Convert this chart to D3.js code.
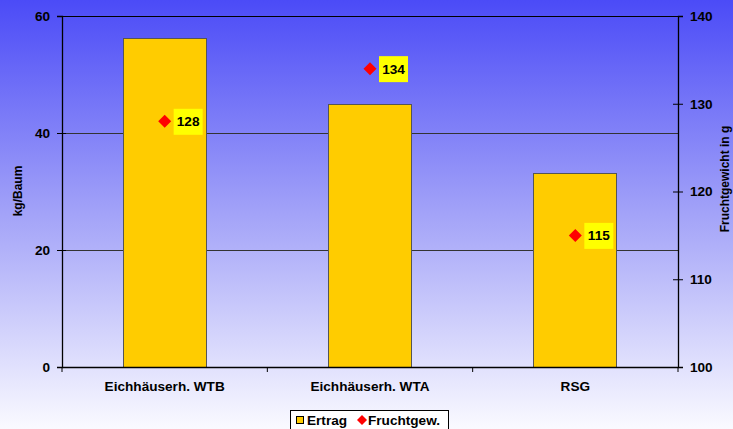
<!DOCTYPE html>
<html><head><meta charset="utf-8">
<script src="https://cdn.jsdelivr.net/npm/d3@7"></script>
<style>body{margin:0;}svg{display:block;font-family:"Liberation Sans",Arial,sans-serif;font-weight:bold;}</style>
</head><body>
<svg id="c" width="733" height="429"></svg>
<script>
const categories = ["Eichhäuserh. WTB", "Eichhäuserh. WTA", "RSG"];
const ertrag = [56.2, 44.8, 33.0];
const fruchtgew = [128, 134, 115];
const leftTicks = [0, 20, 40, 60];
const rightTicks = [100, 110, 120, 130, 140];

const svg = d3.select("#c");
const W = 733, H = 429;
const m = {left: 62, right: 678, top: 16, bottom: 367};

const defs = svg.append("defs");
const g = defs.append("linearGradient").attr("id","bg").attr("x1",0).attr("y1",0).attr("x2",0).attr("y2",1);
g.append("stop").attr("offset","0%").attr("stop-color","#4b4bf7");
g.append("stop").attr("offset","50%").attr("stop-color","#a3a3f8");
g.append("stop").attr("offset","100%").attr("stop-color","#fafaff");
svg.append("rect").attr("width",W).attr("height",H).attr("fill","url(#bg)");

const x = d3.scaleBand().domain(categories).range([m.left, m.right]).padding(0);
const yL = d3.scaleLinear().domain([0,60]).range([m.bottom, m.top]);
const yR = d3.scaleLinear().domain([100,140]).range([m.bottom, m.top]);

// gridlines
svg.append("g").selectAll("line").data(leftTicks.filter(d=>d>0)).join("line")
  .attr("x1",m.left).attr("x2",m.right).attr("y1",d=>yL(d)).attr("y2",d=>yL(d))
  .attr("stroke", d=> d===60 ? "#000" : "#333").attr("stroke-width",1).attr("shape-rendering","crispEdges");

// bars
const bw = x.bandwidth()*0.404;
svg.append("g").selectAll("rect").data(categories).join("rect")
  .attr("x", d=> x(d)+x.bandwidth()/2-bw/2).attr("width", bw)
  .attr("y", (d,i)=> yL(ertrag[i])).attr("height",(d,i)=> yL(0)-yL(ertrag[i]))
  .attr("fill","#ffcc00").attr("stroke","#555").attr("stroke-width",1).attr("shape-rendering","crispEdges");

// axes
const axL = d3.axisLeft(yL).tickValues(leftTicks).tickSize(5).tickPadding(7);
const gl = svg.append("g").attr("transform",`translate(${m.left},0)`).call(axL);
const axR = d3.axisRight(yR).tickValues(rightTicks).tickSize(5).tickPadding(7);
const gr = svg.append("g").attr("transform",`translate(${m.right},0)`).call(axR);
const axB = d3.axisBottom(x).tickSize(0).tickPadding(14);
const gb = svg.append("g").attr("transform",`translate(0,${m.bottom})`).call(axB);
[gl,gr,gb].forEach(a=>{
  a.select(".domain").attr("stroke","#000").attr("stroke-width",1.3);
  a.selectAll(".tick line").attr("stroke","#000");
  a.selectAll("text").attr("font-size",13.6).attr("font-weight","bold").attr("fill","#000")
   .attr("font-family","Liberation Sans, Arial, sans-serif");
});
gb.selectAll(".tick text").attr("dy","0.71em");
// inner cross ticks
gl.selectAll(".tick").append("line").attr("x2",4).attr("stroke","#000");
gr.selectAll(".tick").append("line").attr("x2",-5).attr("stroke","#000");
// category boundary ticks
const bounds = [m.left, ...categories.slice(1).map(c=>x(c)), m.right];
svg.append("g").selectAll("line").data(bounds).join("line")
  .attr("x1",d=>d).attr("x2",d=>d).attr("y1",m.bottom).attr("y2",m.bottom+5).attr("stroke","#000");

// markers and labels
const mk = svg.append("g");
categories.forEach((c,i)=>{
  const cx = x(c)+x.bandwidth()/2, cy = yR(fruchtgew[i]);
  mk.append("path").attr("d","M0,-6.5L6.5,0L0,6.5L-6.5,0Z").attr("transform",`translate(${cx},${cy})`).attr("fill","#ff0000");
  mk.append("rect").attr("x",cx+9).attr("y",cy-12.5).attr("width",29).attr("height",26).attr("fill","#ffff00");
  mk.append("text").attr("x",cx+23.5).attr("y",cy+5).attr("text-anchor","middle").attr("font-size",13.6).attr("fill","#000").text(fruchtgew[i]);
});

// axis titles
svg.append("text").attr("transform","translate(22,191) rotate(-90)").attr("text-anchor","middle").attr("font-size",12).text("kg/Baum");
svg.append("text").attr("transform","translate(729,179) rotate(-90)").attr("text-anchor","middle").attr("font-size",12).text("Fruchtgewicht in g");

// legend
const lg = svg.append("g");
lg.append("rect").attr("x",290.5).attr("y",410.5).attr("width",158).attr("height",24).attr("fill","#fff").attr("stroke","#000");
lg.append("rect").attr("x",296.5).attr("y",416.5).attr("width",7).attr("height",7).attr("fill","#ffcc00").attr("stroke","#000");
lg.append("text").attr("x",307).attr("y",425).attr("font-size",13.6).text("Ertrag");
lg.append("path").attr("d","M0,-5L5,0L0,5L-5,0Z").attr("transform","translate(362,420)").attr("fill","#ff0000");
lg.append("text").attr("x",368).attr("y",425).attr("font-size",13.6).text("Fruchtgew.");
</script>
</body></html>
